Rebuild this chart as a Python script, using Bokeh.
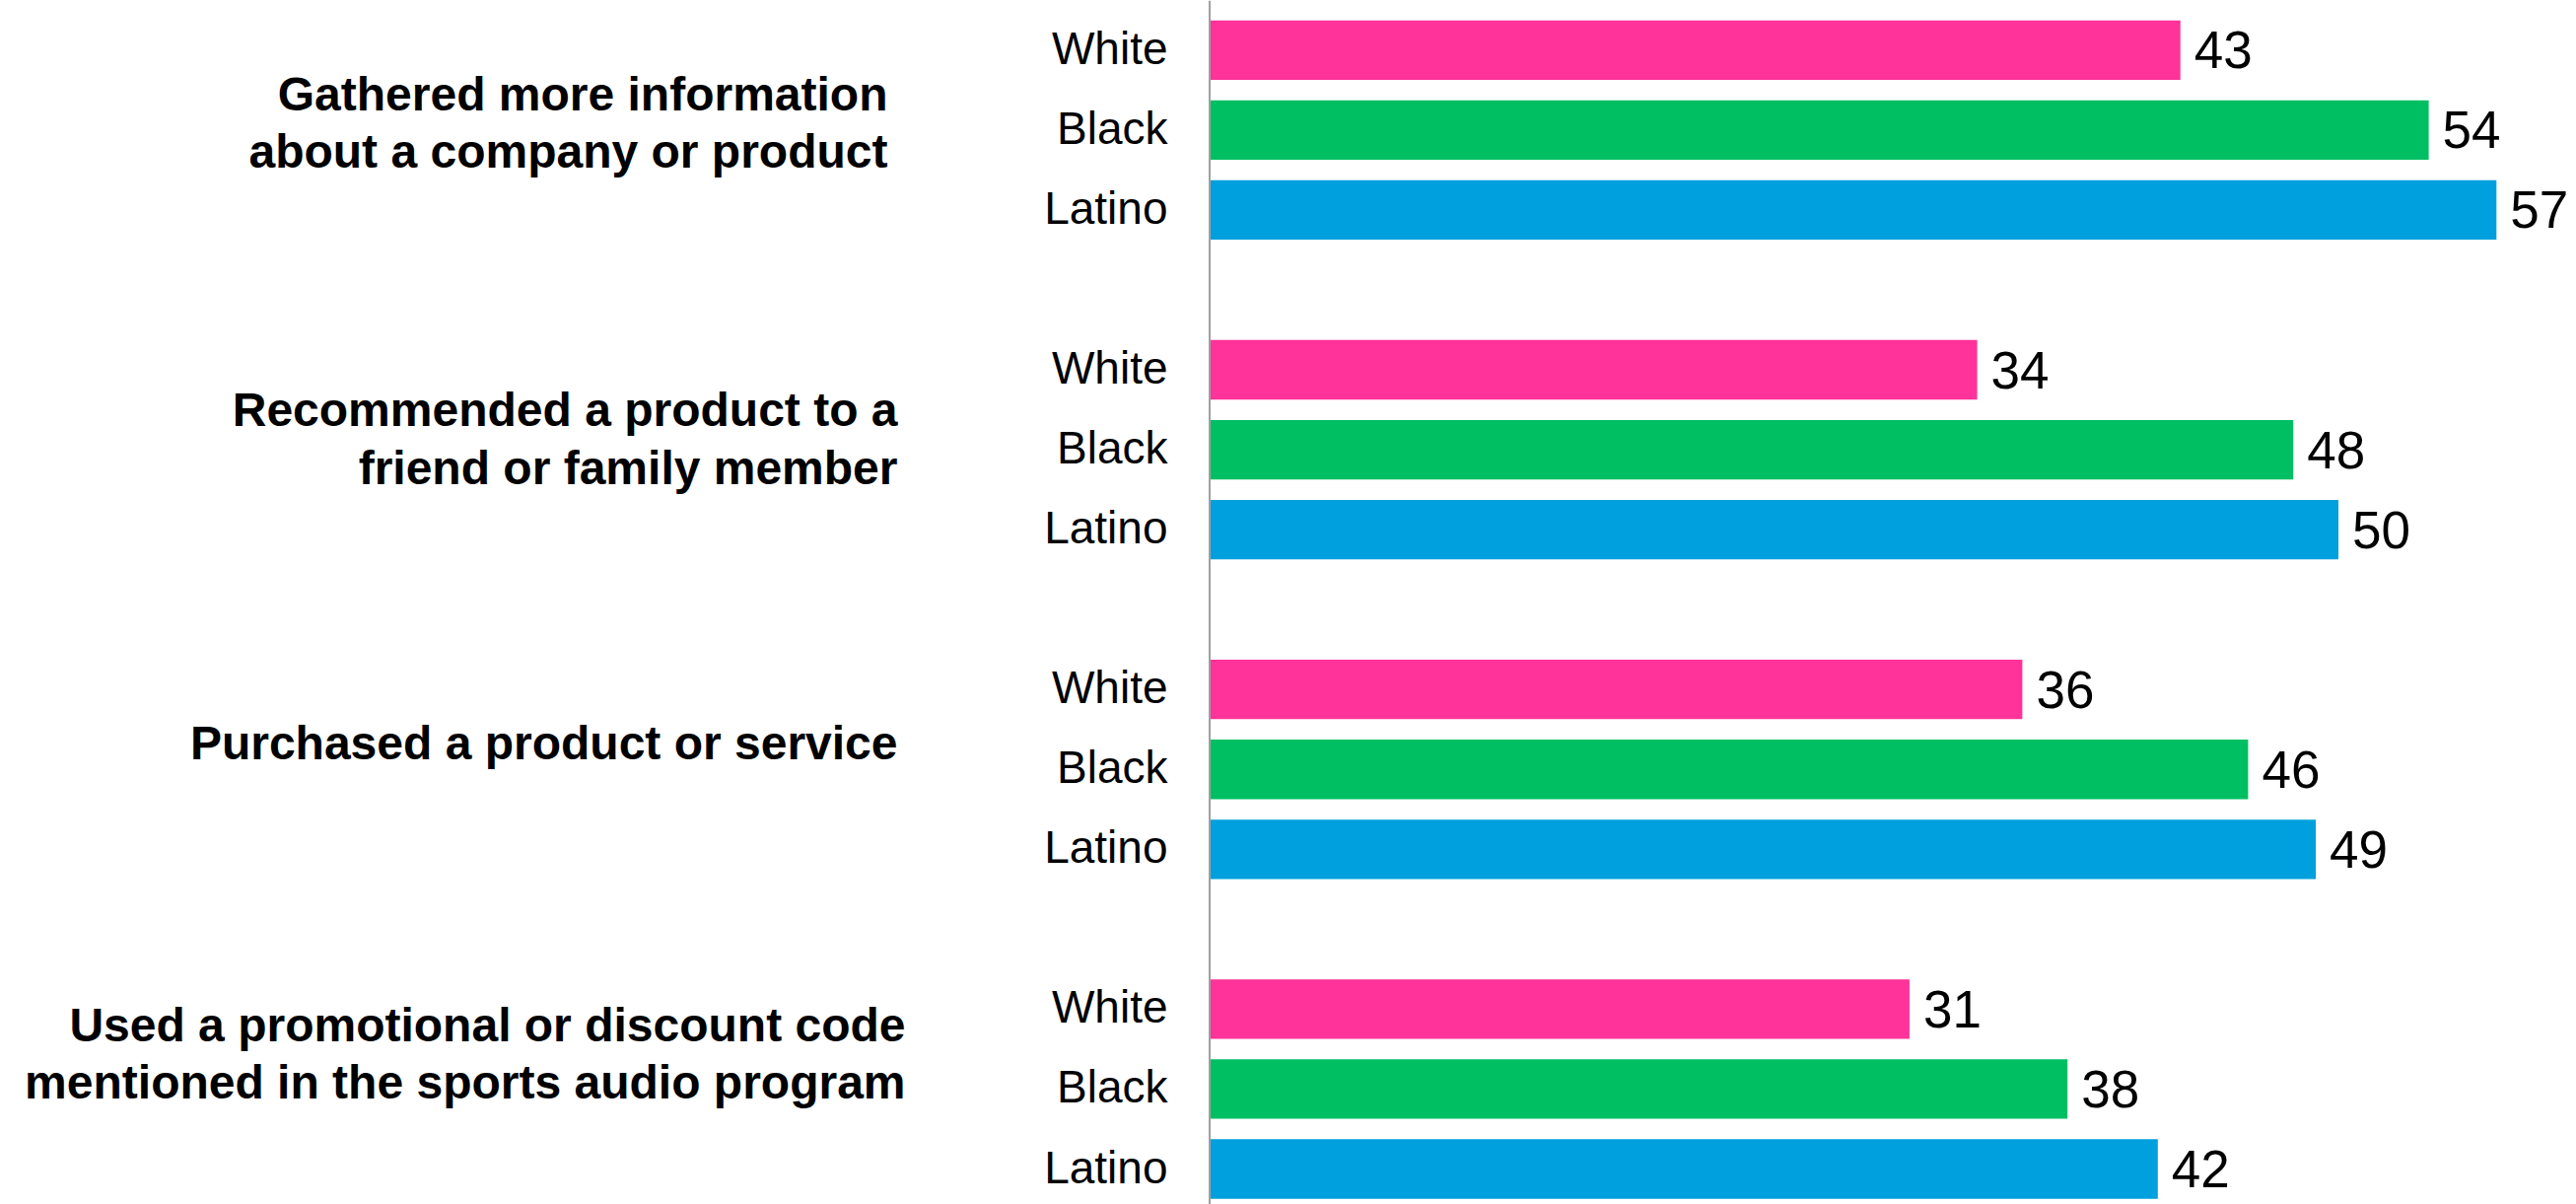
from bokeh.plotting import figure
from bokeh.models import ColumnDataSource, Range1d, Span
from bokeh.core.properties import value
from bokeh.embed import file_html
from bokeh.resources import INLINE

# ---- data ----
questions = [
    "Gathered more information\nabout a company or product",
    "Recommended a product to a\nfriend or family member",
    "Purchased a product or service",
    "Used a promotional or discount code\nmentioned in the sports audio program",
]
groups = ["White", "Black", "Latino"]
white = [43, 34, 36, 31]
black = [54, 48, 46, 38]
latino = [57, 50, 49, 42]
colors = ["#FF3399", "#00BF63", "#009FDD"]

# ---- layout (pixels) ----
OFF = 0
W, H = 2605, 1221
px_per_unit = 22.9
zero_px = 1226.5 - OFF
slot_px = 81.05
first_center_px = 50.3 - OFF
title_right_px = [900, 910, 910, 918]
title_dy_px = [-7, -11, -27, -36]

xs = -zero_px / px_per_unit
xe = xs + W / px_per_unit
ys = -first_center_px / slot_px
ye = ys + H / slot_px

series = [white, black, latino]
bar_y, bar_v, bar_c, bar_lbl, bar_txt = [], [], [], [], []
for q in range(len(questions)):
    for i, g in enumerate(groups):
        slot = 4 * q + i
        bar_y.append(slot)
        bar_v.append(series[i][q])
        bar_c.append(colors[i])
        bar_lbl.append(g)
        bar_txt.append(str(series[i][q]))

bars = ColumnDataSource(dict(y=bar_y, v=bar_v, c=bar_c, lbl=bar_lbl, txt=bar_txt))

tx = [(r - OFF - zero_px) / px_per_unit for r in title_right_px]
ty = [4 * q + 1 for q in range(len(questions))]
titles = ColumnDataSource(dict(x=tx, y=ty, t=questions, dy=title_dy_px))

p = figure(width=W, height=H, x_range=Range1d(xs, xe), y_range=Range1d(ye, ys),
           output_backend="svg", toolbar_location=None, min_border=0,
           x_axis_location=None, y_axis_location=None)
p.grid.visible = False
p.outline_line_color = None
p.background_fill_color = "white"
p.border_fill_color = "white"

p.hbar(y="y", left=0, right="v", height=60.3 / slot_px, fill_color="c",
       line_color=None, source=bars)

p.add_layout(Span(location=0, dimension="height", line_color="#A0A0A0", line_width=2))

font = value("Liberation Sans")
# value labels
p.text(x="v", y="y", text="txt", source=bars, x_offset=14, text_align="left",
       text_baseline="middle", text_font=font, text_font_size="53px", text_color="black")
# group labels
p.text(x=-42.5 / px_per_unit, y="y", text="lbl", source=bars, y_offset=-2,
       text_align="right", text_baseline="middle", text_font=font,
       text_font_size="46px", text_color="black")
# question titles
p.text(x="x", y="y", text="t", source=titles, y_offset="dy", text_align="right",
       text_baseline="middle", text_font=font, text_font_style="bold",
       text_font_size="48px", text_line_height=1.1, text_color="black")

open("out.html", "w").write(file_html(p, INLINE))
